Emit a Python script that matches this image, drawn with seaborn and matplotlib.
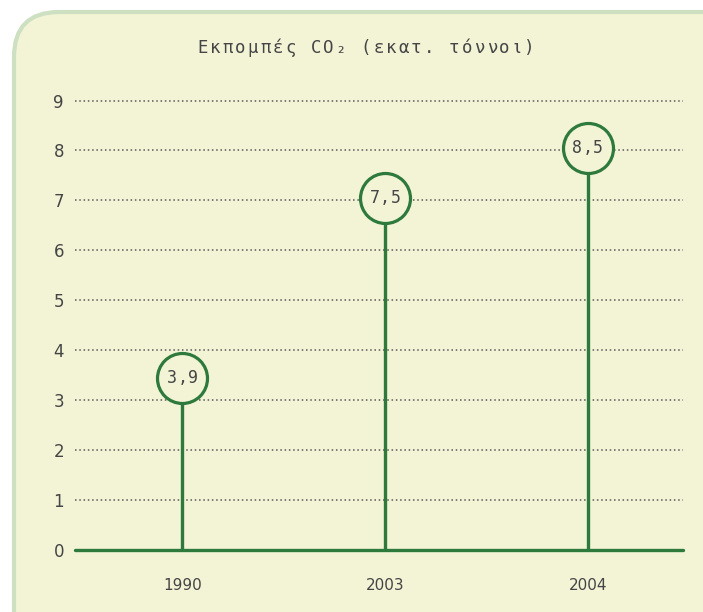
import numpy as np
import matplotlib
matplotlib.use("Agg")
import matplotlib.pyplot as plt
from matplotlib.patches import FancyBboxPatch
from matplotlib.transforms import offset_copy
import seaborn as sns
import pandas as pd

# data
years = ["1990", "2003", "2004"]
emissions = [3.9, 7.5, 8.5]
value_labels = ["3,9", "7,5", "8,5"]
title = "Εκπομπές CO₂ (εκατ. τόννοι)"

green = "#2e7a3c"
text_col = "#454545"
fill_col = "#f3f3d6"
edge_col = "#cde0c2"
mono = "DejaVu Sans Mono"

sns.set_theme(style="white")
plt.rcParams["font.family"] = ["DejaVu Sans"]

fig = plt.figure(figsize=(7.03, 6.12), dpi=100)
fig.patch.set_facecolor("white")

# rounded card behind the chart, running off the right and bottom edges
card = FancyBboxPatch((0.14, -0.6), 7.6, 6.6,
                      boxstyle="round,pad=0,rounding_size=0.45",
                      transform=fig.dpi_scale_trans, zorder=-10,
                      facecolor=fill_col, edgecolor=edge_col, linewidth=3.0)
fig.patches.append(card)

ax = fig.add_axes([75 / 703, 62 / 612, 608 / 703, 0.7385])
ax.set_facecolor("none")

df = pd.DataFrame({"year": years, "value": emissions, "label": value_labels})
df["pos"] = np.arange(len(df))

ax.set_xlim(-0.53, 2.47)
ax.set_ylim(0, 9.05)

# circle radius in px, converted into data units
radius_px = 25
px_per_unit = ax.get_position().height * 612 / 9.05
rad = radius_px / px_per_unit
df["centre"] = df["value"] - rad + 0.05

# dotted grid
for yv in range(1, 10):
    ax.axhline(yv, color="#5a5a5a", linewidth=1.1, linestyle=(0, (1, 1.8)), zorder=1)
ax.axhline(0, color=green, linewidth=2.4, zorder=3, clip_on=False)

ax.vlines(df["pos"], 0, df["centre"] - rad, color=green, linewidth=2.4, zorder=3)
sns.scatterplot(data=df, x="pos", y="centre", ax=ax, s=(radius_px * 2 * 0.72) ** 2,
                facecolor=fill_col, edgecolor=green, linewidth=2.3, zorder=4,
                legend=False, clip_on=False)


def spaced(x, y, s, step_pt, size, base, **kw):
    # draw characters one by one to mimic the wide letter spacing
    n = len(s)
    for i, ch in enumerate(s):
        tr = offset_copy(base, fig=fig, x=(i - (n - 1) / 2) * step_pt, y=0, units="points")
        fig.text(x, y, ch, transform=tr, ha="center", va="center",
                 fontsize=size, family=mono, color=text_col, **kw)


for _, r in df.iterrows():
    spaced(r["pos"], r["centre"], r["label"], 7.6, 12, ax.transData, zorder=5)

spaced(366 / 703, 564 / 612, title, 9.06, 12.5, fig.transFigure)

ax.set_xticks(df["pos"])
ax.set_xticklabels(df["year"], fontsize=11, color=text_col)
ax.set_yticks(range(0, 10))
ax.set_yticklabels([str(v) for v in range(0, 10)], fontsize=12, color=text_col)
ax.tick_params(axis="x", length=0, pad=20)
ax.tick_params(axis="y", length=0, pad=8)
ax.set_xlabel("")
ax.set_ylabel("")
sns.despine(ax=ax, left=True, bottom=True)

fig.savefig("out.png", dpi=100, facecolor="white")
